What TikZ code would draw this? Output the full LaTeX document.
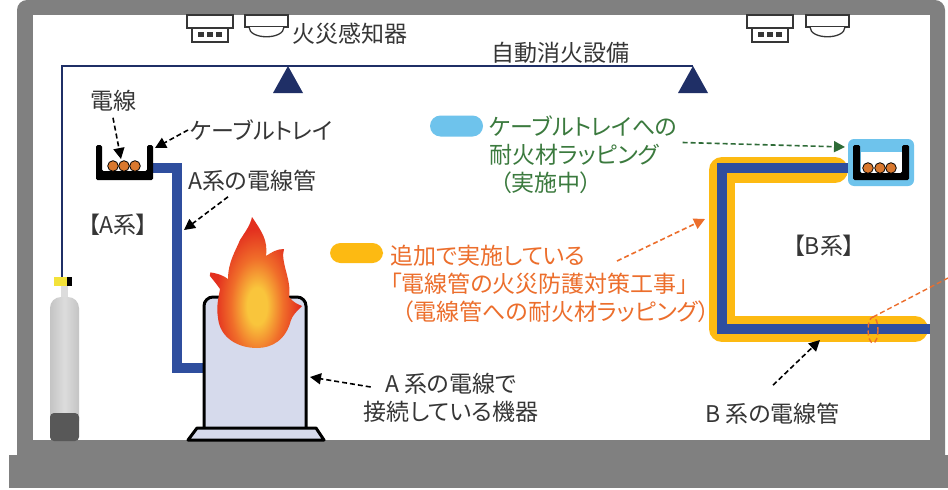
\documentclass[tikz,border=0pt]{standalone}
\usepackage{fontspec}
\newfontfamily\jp{Noto Sans CJK JP}[RawFeature=+palt]
\usetikzlibrary{arrows.meta}

\definecolor{wallgray}{HTML}{808080}
\definecolor{navy}{HTML}{1F2F66}
\definecolor{conduit}{HTML}{2F4E9E}
\definecolor{wrapgold}{HTML}{FDBA12}
\definecolor{wrapsky}{HTML}{6EC3EC}
\definecolor{txt}{HTML}{363636}
\definecolor{orangetxt}{HTML}{EC6E2C}
\definecolor{greentxt}{HTML}{3B7A3E}
\definecolor{greenarrow}{HTML}{2E6B37}
\definecolor{cable}{HTML}{D9782E}
\definecolor{machine}{HTML}{D6DAEC}
\definecolor{tanklight}{HTML}{DCDCDC}
\definecolor{tankmid}{HTML}{C4C4C4}
\definecolor{tankdark}{HTML}{585858}
\definecolor{valvey}{HTML}{F3E23A}
\definecolor{flameY}{HTML}{F9C53C}
\definecolor{flameO}{HTML}{F06E2A}
\definecolor{flameR}{HTML}{E3301F}

\pgfdeclareradialshading{flameglow}{\pgfpoint{0bp}{0bp}}{%
  color(0bp)=(flameY); color(5bp)=(flameY); color(13bp)=(flameO);
  color(21bp)=(flameR); color(50bp)=(flameR)}

\tikzset{
  lbl/.style={font=\jp\fontsize{23}{28}\selectfont, text=txt, inner sep=0pt},
  pointer/.style={draw=black, dash pattern=on 5pt off 3pt, line width=1.6pt,
    -{Triangle[length=11pt,width=11pt]}},
  greenpointer/.style={pointer, draw=greenarrow,
    -{Triangle[length=11pt,width=11pt,fill=greenarrow]}},
  orangepointer/.style={pointer, draw=orangetxt,
    -{Triangle[length=11pt,width=11pt,fill=orangetxt]}},
  orangeline/.style={draw=orangetxt, dash pattern=on 5pt off 3pt, line width=1.4pt},
  detline/.style={draw=txt, line width=1.3pt, fill=white},
  trayblack/.style={fill=black, rounded corners=1.5pt},
  wire/.style={fill=cable, draw=black, line width=0.8pt},
  swatch/.style={inner sep=0pt, minimum width=53pt, minimum height=21pt, rounded corners=10.5pt},
  heatdet/.pic={
    \draw[detline] (0,0) rectangle (46,13);
    \draw[detline] (5,13) rectangle (41,27);
    \foreach \u in {11,20,29} \fill[txt] (\u,17) rectangle ++(6,5);
  },
  smokedet/.pic={
    \draw[detline] (0,0) rectangle (43,12);
    \draw[detline] (4,12) .. controls (4,25) and (39,25) .. (39,12);
  }
}

\begin{document}
\begin{tikzpicture}[x=1pt,y=-1pt]
\useasboundingbox (0,0) rectangle (948,490);

% building shell: walls, ceiling, floor slab
\fill[wallgray, rounded corners=10pt] (17,0) rectangle (945,470);
\fill[wallgray] (9,455) rectangle (948,488);
\fill[white] (33,15) rectangle (930,440);

% ceiling detectors
\pic at (187,15) {heatdet};
\pic at (245,15) {smokedet};
\pic at (747,15) {heatdet};
\pic at (806,15) {smokedet};
\node[lbl, anchor=west] (lblDetector) at (292,34) {火災感知器};

% sprinkler piping with heads
\coordinate (valve) at (62,277);
\coordinate (pipeCorner) at (62,66);
\coordinate (pipeEnd) at (693,66);
\draw[navy, line width=2pt] (valve) -- (pipeCorner) -- (pipeEnd);
\fill[navy] (288,66) -- (303,93) -- (273,93) -- cycle;
\fill[navy] (693,66) -- (708,93) -- (678,93) -- cycle;
\node[lbl, anchor=west] (lblSprinkler) at (491,53) {自動消火設備};

% extinguishing agent cylinder
\fill[valvey] (54,277) rectangle (67,286);
\fill[black] (67,277) rectangle (72,286);
\fill[tanklight] (61,286) rectangle (68,299);
\shade[left color=tankmid, right color=tankmid, middle color=tanklight, rounded corners=11pt]
  (50,432) -- (50,297) -- (79,297) -- (79,432) -- cycle;
\fill[tankdark, rounded corners=4pt] (50,413) rectangle (79,441);

% system A conduit and cable tray
\draw[conduit, line width=10pt] (150,168) -- (177,168) -- (177,368) -- (206,368);
\fill[trayblack] (96,145) -- (96,180) -- (153,180) -- (153,145) -- (147,145)
  -- (147,171) -- (102,171) -- (102,145) -- cycle;
\foreach \u in {113,124,135} \filldraw[wire] (\u,166) circle (5.3pt);

% equipment on fire
\filldraw[fill=machine, draw=black, line width=3pt, rounded corners=9pt]
  (204,429) -- (204,297) -- (306,297) -- (306,429);
\filldraw[fill=machine, draw=black, line width=3pt, line join=round]
  (188,440) -- (197,428) -- (316,428) -- (324,440) -- cycle;
\begin{scope}
  \clip (252,217) .. controls (262,232) and (268,240) .. (266,256)
    .. controls (272,252) and (277,249) .. (284,249)
    .. controls (280,262) and (292,280) .. (289,297)
    .. controls (293,302) and (297,304) .. (302,306)
    .. controls (296,312) and (293,315) .. (291,320)
    .. controls (286,340) and (272,348) .. (257,348)
    .. controls (238,348) and (220,338) .. (218,318)
    .. controls (216,305) and (219,296) .. (220,289)
    .. controls (216,283) and (212,279) .. (207,272)
    .. controls (218,273) and (224,276) .. (228,279)
    .. controls (228,262) and (236,250) .. (240,240)
    .. controls (245,232) and (250,226) .. (252,217) -- cycle;
  \shade[shading=flameglow] (257,306) ellipse [x radius=50, y radius=92];
\end{scope}

% system B conduit with fire-resistant wrapping
\draw[wrapgold, line width=26pt, line cap=round, line join=round]
  (835,170) -- (722,170) -- (722,329) -- (915,329);
\draw[conduit, line width=10pt] (853,168) -- (722,168) -- (722,329) -- (930,329);

% system B cable tray with wrapping
\fill[wrapsky, rounded corners=6pt] (848,139) rectangle (914,186);
\fill[white] (861,152) rectangle (902,173);
\fill[trayblack] (853,145) -- (853,180) -- (909,180) -- (909,145) -- (902,145)
  -- (902,173) -- (860,173) -- (860,145) -- cycle;
\foreach \u in {868,880,891} \filldraw[wire] (\u,168) circle (5.3pt);

% wrapped section marker
\draw[orangeline] (873,330) ellipse [x radius=5, y radius=13];
\coordinate (ringTop) at (873,317);
\coordinate (edgeOut) at (948,278);
\draw[orangeline] (ringTop) -- (edgeOut);

% labels
\node[lbl] (lblWire) at (113,101) {電線};
\node[lbl, anchor=west] (lblTray) at (190,130) {ケーブルトレイ};
\node[lbl, anchor=west] (lblConduitA) at (188,181) {A系の電線管};
\node[lbl] (lblSysA) at (118,225) {【A系】};
\node[lbl, align=center] (lblMachine) at (451,398) {A 系の電線で\\接続している機器};
\node[lbl] (lblSysB) at (824,246) {【B系】};
\node[lbl, anchor=west] (lblConduitB) at (705,414) {B 系の電線管};

% legend entries
\node[swatch, fill=wrapsky] (swatchSky) at (456.5,126) {};
\node[lbl, text=greentxt, align=left, anchor=west] (lblSky) at (489,154.5)
  {ケーブルトレイへの\\耐火材ラッピング\\\hspace*{11pt}（実施中）};
\node[swatch, fill=wrapgold, minimum height=20pt] (swatchGold) at (356.5,253) {};
\node[lbl, text=orangetxt, align=left, anchor=west] (lblGold) at (390,284)
  {追加で実施している\\「電線管の火災防護対策工事」\\\hspace*{12pt}（電線管への耐火材ラッピング）};

% pointer targets
\coordinate (wireTip) at (121,159);
\coordinate (trayTip) at (155,148);
\coordinate (conduitATip) at (184,230);
\coordinate (machineTip) at (310,377);
\coordinate (trayBTip) at (845,147);
\coordinate (wrapTip) at (705,219);
\coordinate (conduitBTip) at (820,340);

% pointers
\draw[pointer] ([shift={(0,6)}]lblWire.south) -- (wireTip);
\draw[pointer] ([shift={(-2,0)}]lblTray.west) -- (trayTip);
\draw[pointer] ([shift={(40,5)}]lblConduitA.south west) -- (conduitATip);
\draw[pointer] ([shift={(7,-11)}]lblMachine.west) -- (machineTip);
\draw[greenpointer] ([shift={(5,-12)}]lblSky.east) -- (trayBTip);
\draw[orangepointer] ([shift={(227,16)}]lblGold.north west) -- (wrapTip);
\draw[pointer] ([shift={(68,-18)}]lblConduitB.north west) -- (conduitBTip);
\end{tikzpicture}
\end{document}
